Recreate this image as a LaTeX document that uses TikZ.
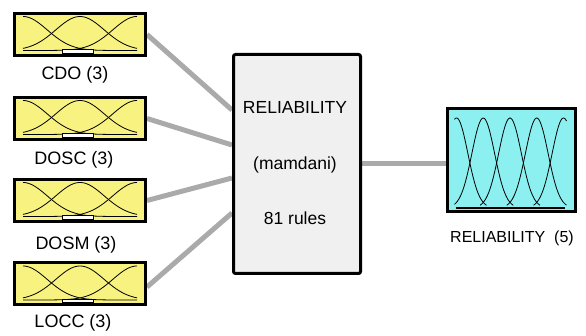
\documentclass[tikz,border=0pt]{standalone}
\usepackage{fontspec}
\setmainfont{Liberation Sans}
\usetikzlibrary{backgrounds}
\definecolor{mfyellow}{RGB}{248,242,128}
\definecolor{mfcyan}{RGB}{140,240,240}
\definecolor{rulegray}{RGB}{240,240,240}
\definecolor{linkgray}{RGB}{170,170,170}
\tikzset{
  inbox/.style={draw=black, line width=3pt, fill=mfyellow, minimum width=131pt, minimum height=42pt, inner sep=0pt},
  outbox/.style={draw=black, line width=3pt, fill=mfcyan, minimum width=128pt, minimum height=103pt, inner sep=0pt},
  rulebox/.style={draw=black, line width=3pt, fill=rulegray, rounded corners=2pt, minimum width=127pt, minimum height=219pt, inner sep=0pt},
  lbl/.style={font=\fontsize{18}{20}\selectfont, inner sep=0pt},
  link/.style={draw=linkgray, line width=5pt},
  mf/.style={draw=black, line width=0.8pt}
}
\begin{document}
\begin{tikzpicture}[x=1pt,y=-1pt]
\useasboundingbox (0,0) rectangle (586,336);
% input boxes
\node[inbox] (cdo)  at (80,34.5) {};
\node[inbox] (dosc) at (80,118.5) {};
\node[inbox] (dosm) at (80,200.5) {};
\node[inbox] (locc) at (80,284) {};
\node[lbl] (lcdo)  at (75,75)  {CDO (3)};
\node[lbl] (ldosc) at (74,160) {DOSC (3)};
\node[lbl] (ldosm) at (76,245) {DOSM (3)};
\node[lbl] (llocc) at (73,323) {LOCC (3)};
% rule box
\node[rulebox] (rule) at (297,164) {};
\node[lbl, font=\fontsize{17.5}{20}\selectfont] (t1) at (295,107) {RELIABILITY};
\node[lbl, font=\fontsize{17.5}{20}\selectfont] (t2) at (295,165) {(mamdani)};
\node[lbl, font=\fontsize{17.5}{20}\selectfont] (t3) at (295,218) {81 rules};
% output box
\node[outbox] (out) at (511.5,160) {};
\node[lbl, font=\fontsize{16}{18}\selectfont] (lout) at (512,238) {RELIABILITY\ \ (5)};
% connectors
\begin{scope}[on background layer]
\draw[link] (cdo.east) -- ([yshift=54pt]rule.west);
\draw[link] (dosc.east) -- ([yshift=19pt]rule.west);
\draw[link] (dosm.east) -- ([yshift=-14pt]rule.west);
\draw[link] ([yshift=-3pt]locc.east) -- ([yshift=-49pt]rule.west);
\draw[link] (rule.east) -- (rule.east -| out.west);
\end{scope}
% input membership functions
\foreach \n in {cdo,dosc,dosm,locc}{
  \begin{scope}[shift={(\n.center)}]
    \draw[mf] plot[domain=-57:57, samples=60, smooth] (\x, {16 - 34*exp(-((\x+57)^2)/(2*24.2*24.2))});
    \draw[mf] plot[domain=-57:57, samples=60, smooth] (\x, {16 - 34*exp(-((\x)^2)/(2*24.2*24.2))});
    \draw[mf] plot[domain=-57:57, samples=60, smooth] (\x, {16 - 34*exp(-((\x-57)^2)/(2*24.2*24.2))});
    \draw[fill=white, draw=black, line width=0.6pt] (-18,15) rectangle (13,18.5);
  \end{scope}
}
% output membership functions
\begin{scope}[shift={(out.center)}]
  \foreach \c/\a/\b in {-55/-57/-25, -28.25/-57/1.75, -1.5/-31.5/28.5, 25.25/-4.75/55, 52/22/55}{
    \draw[mf] plot[domain=\a:\b, samples=50, smooth] (\x, {48 - 90*exp(-((\x-\c)^2)/(2*11.36*11.36))});
  }
  \draw[black, line width=2pt] (-56,48) -- (53,48);
\end{scope}
\end{tikzpicture}
\end{document}
